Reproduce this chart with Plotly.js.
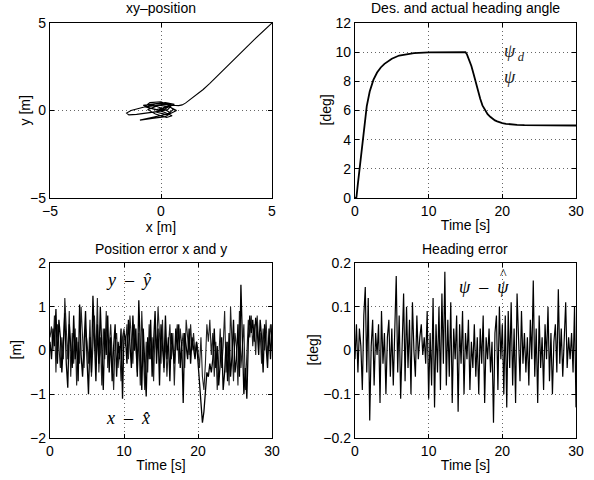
<!DOCTYPE html>
<html>
<head>
<meta charset="utf-8">
<script src="https://cdn.plot.ly/plotly-3.0.1.min.js"></script>
<style>html,body{margin:0;padding:0;background:#fff}#chart{width:594px;height:480px}</style>
</head>
<body>
<div id="chart"></div>
<script>
// ---- xy-position trajectory ----
var posX = [5,4.6,4.2,3.8,3.4,3.1,2.8,2.5,2.2,1.9,1.6,1.35,1.1,0.95,0.8,0.5,0.2,-0.2,-0.6,-1.0,-1.35,-1.55,-1.45,-1.1,-0.6,-0.1,0.3,0.45,0.2,-0.3,-0.75,-0.5,0.0,0.35,0.55,0.3,-0.2,-0.6,-0.95,-0.4,0.2,0.45,0.1,-0.35,-0.7,-0.2,0.3,0.6,0.2,-0.3,-0.8,-0.4,0.15,0.5,0.25,-0.25,-0.6,-0.1,0.4,0.7,0.3,-0.2,0.1,0.45,0.2,-0.15,0.0];
var posY = [5,4.55,4.05,3.55,3.05,2.65,2.25,1.9,1.55,1.2,0.9,0.65,0.42,0.32,0.28,0.3,0.4,0.38,0.25,0.12,0.0,-0.15,-0.25,-0.22,-0.15,-0.05,0.05,0.25,0.35,0.28,0.2,0.45,0.5,0.3,0.05,-0.2,-0.35,-0.45,-0.55,-0.45,-0.35,-0.15,0.1,0.3,0.2,0.05,0.2,0.35,0.45,0.38,0.3,0.1,-0.1,-0.3,-0.4,-0.2,0.05,0.3,0.2,0.0,-0.25,-0.1,0.15,0.3,0.1,-0.05,0.05];

// ---- heading angle ----
var headT = [0,0.2,0.4,0.6,0.9,1.2,1.6,2,2.5,3,3.5,4,4.5,5,6,7,8,10,12,15.0,15.2,15.5,15.8,16.1,16.4,16.7,17,17.3,17.6,18,18.4,18.7,19,19.3,19.6,20,20.5,21,22,23,25,30];
var headV = [0,0.05,1.0,1.9,3.3,4.6,6.3,7.3,8.1,8.6,8.95,9.2,9.4,9.55,9.77,9.88,9.94,9.99,10,10,9.85,9.5,9.05,8.5,7.9,7.3,6.8,6.35,6.05,5.75,5.55,5.42,5.32,5.25,5.19,5.14,5.09,5.05,5.01,4.99,4.98,4.97];

// ---- position errors (sampled every 0.2 s from t = 0) ----
var xErr = [0.2,-0.2,0.5,0.1,0.95,-0.3,0.7,0.3,-0.5,0.2,
  0.85,-0.3,-0.85,0.6,0.1,-0.4,0.8,-0.2,0.3,-0.7,
  1.05,-0.1,-0.6,0.4,0.9,-0.2,-1.0,0.3,-0.5,1.25,
  0.2,-0.7,0.6,-0.3,1.0,0.1,-0.9,0.5,-0.1,0.8,
  -0.5,0.3,-0.7,0.1,0.6,-0.6,0.2,-0.2,0.5,-1.1,
  0.4,0.3,-0.3,0.7,0.2,-0.4,0.8,0.0,0.5,-0.6,
  1.15,0.2,-0.9,0.5,-0.5,-1.05,0.3,-0.2,0.7,-0.6,
  0.2,0.9,-0.3,0.5,-0.8,0.6,0.1,-0.4,0.8,-0.2,
  0.3,-0.7,0.4,0.1,-0.3,0.5,0.0,0.6,-0.4,0.2,
  -1.2,0.4,0.1,-0.2,0.5,-0.3,0.3,0.1,-0.2,0.2,
  -0.3,-0.9,-1.3,-1.65,-1.4,-0.9,-0.5,-0.6,-0.3,-0.5,
  -0.2,0.5,-0.4,0.1,-0.8,-0.3,0.3,-0.9,-0.5,0.2,
  -0.7,0.4,-0.6,-0.1,0.7,-0.5,-0.2,0.6,-0.6,1.5,
  0.3,-1.0,-0.4,-1.1,0.2,0.8,0.4,0.7,0.2,0.75,
  0.5,-0.1,0.7,0.3,-0.5,0.6,0.1,-0.4,0.5,-0.2,
  0.6];
var yErr = [0.3,0.55,0.0,0.8,-0.5,0.6,0.1,-0.4,0.3,-0.2,
  1.2,0.4,-0.2,0.9,-0.6,0.4,-0.3,0.5,-0.8,0.2,
  -0.3,1.0,0.1,-0.4,0.5,0.2,-0.3,0.7,-0.6,0.1,
  0.8,-0.2,1.2,-0.5,0.3,-0.8,0.5,-0.2,0.9,-0.4,
  0.2,0.6,-0.1,-0.9,0.2,0.4,-0.4,0.1,-0.7,0.3,
  0.5,0.1,0.6,-0.2,0.8,0.3,-0.3,0.6,0.1,-0.5,
  0.4,-0.8,0.9,0.0,-0.9,0.2,-0.5,0.6,-0.2,0.3,
  -0.7,0.5,0.0,1.0,0.2,-0.3,0.7,-0.5,0.3,-0.6,
  0.1,0.6,-0.2,0.4,-0.8,0.2,0.6,-0.3,0.5,0.1,
  0.4,-0.4,0.7,0.2,-0.1,0.6,0.0,0.4,-0.1,0.2,
  0.0,-0.4,0.3,-0.6,-0.9,-0.3,0.6,0.2,0.7,-0.1,
  0.4,-0.6,0.2,-0.9,-0.2,0.5,-0.4,0.1,0.9,-0.5,
  0.2,-0.8,1.0,0.3,-0.7,0.4,0.1,-0.8,0.9,-0.4,
  0.2,0.6,-0.9,0.1,0.7,0.3,0.8,0.1,0.6,-0.1,
  0.8,0.2,0.4,-0.3,0.5,0.0,0.7,-0.1,0.3,0.6,
  0.0];

// ---- heading error (sampled every 0.2 s from t = 0) ----
var headErr = [-0.02,0.06,-0.05,0.05,0.01,-0.09,0.08,0.145,-0.05,0.12,
  -0.16,0.01,0.07,-0.08,0.04,-0.01,0.06,-0.12,0.09,-0.03,
  0.04,-0.1,0.03,0.07,-0.06,0.05,-0.08,0.06,0.17,-0.05,
  0.08,-0.11,0.02,0.13,-0.07,0.1,-0.04,0.07,-0.1,0.11,
  0.0,-0.06,0.08,-0.02,0.03,0.06,-0.01,0.03,-0.03,0.09,
  -0.11,0.04,-0.08,0.12,-0.13,0.06,-0.05,0.1,-0.09,0.13,
  -0.03,0.18,-0.08,0.07,-0.06,0.11,-0.12,0.05,-0.02,0.08,
  -0.14,0.06,-0.03,0.09,-0.1,0.04,-0.02,0.07,-0.09,0.02,
  -0.04,0.06,-0.06,0.03,-0.1,0.05,-0.03,0.08,-0.12,0.03,
  -0.02,0.05,-0.05,0.02,-0.165,0.04,0.08,-0.09,0.1,-0.02,
  0.06,-0.1,0.08,-0.13,0.09,-0.04,0.11,-0.08,0.05,-0.12,
  0.13,0.0,-0.07,0.09,-0.03,0.04,-0.05,0.03,-0.08,0.07,
  -0.02,0.16,-0.06,0.05,-0.12,0.08,-0.04,0.03,-0.09,0.06,
  -0.02,0.1,-0.07,0.04,-0.1,0.02,0.06,-0.05,0.14,-0.03,
  0.05,-0.06,0.02,0.11,-0.04,0.03,-0.02,0.04,-0.05,0.1,
  -0.13];

var FONT = 'Liberation Sans, Arial, Helvetica, sans-serif';
var SERIF = 'Liberation Serif, Times New Roman, serif';

var traces = [
  {x: posX, y: posY, xaxis: 'x', yaxis: 'y', mode: 'lines', line: {color: '#000', width: 1.1}},
  {x: headT, y: headV, xaxis: 'x2', yaxis: 'y2', mode: 'lines', line: {color: '#000', width: 1.8}},
  {x0: 0, dx: 0.2, y: yErr, xaxis: 'x3', yaxis: 'y3', mode: 'lines', line: {color: '#222', width: 1.1}},
  {x0: 0, dx: 0.2, y: xErr, xaxis: 'x3', yaxis: 'y3', mode: 'lines', line: {color: '#000', width: 1.3}},
  {x0: 0, dx: 0.2, y: headErr, xaxis: 'x4', yaxis: 'y4', mode: 'lines', line: {color: '#000', width: 1.2}}
];

function ax(extra) {
  var base = {
    showline: true, linecolor: '#000', linewidth: 1.2, mirror: 'allticks',
    ticks: 'inside', ticklen: 4, tickcolor: '#000', tickwidth: 1,
    showgrid: true, gridcolor: '#666', griddash: '1px,3px', gridwidth: 1,
    zeroline: false, fixedrange: true,
    tickfont: {family: FONT, size: 14, color: '#000'}
  };
  for (var k in extra) base[k] = extra[k];
  return base;
}
function axTitle(t, s) { return {text: t, font: {family: FONT, size: 14, color: '#000'}, standoff: s}; }

var xL = [0.0842, 0.4579], xR = [0.5976, 0.9697];
var yT = [0.5875, 0.9521], yB = [0.0875, 0.4521];

function yTitle(t, px, dom) {
  return {text: t, xref: 'paper', yref: 'paper', x: px / 594, y: (dom[0] + dom[1]) / 2,
    xanchor: 'center', yanchor: 'middle', textangle: -90, showarrow: false,
    font: {family: FONT, size: 14, color: '#000'}};
}
function pTitle(t, xd, yd, s) {
  return {text: t, xref: 'paper', yref: 'paper', x: (xd[0] + xd[1]) / 2, y: yd[1],
    xanchor: 'center', yanchor: 'bottom', yshift: s, showarrow: false,
    font: {family: FONT, size: 14, color: '#000'}};
}

var layout = {
  width: 594, height: 480,
  margin: {l: 0, r: 0, t: 0, b: 0},
  paper_bgcolor: '#fff', plot_bgcolor: '#fff',
  showlegend: false,
  font: {family: FONT, size: 14, color: '#000'},
  xaxis: ax({domain: xL, anchor: 'y', range: [-5, 5], tickvals: [-5, 0, 5], title: axTitle('x [m]', 0)}),
  yaxis: ax({domain: yT, anchor: 'x', range: [-5, 5], tickvals: [-5, 0, 5]}),
  xaxis2: ax({domain: xR, anchor: 'y2', range: [0, 30], tickvals: [0, 10, 20, 30], title: axTitle('Time [s]', 2)}),
  yaxis2: ax({domain: yT, anchor: 'x2', range: [0, 12], tickvals: [0, 2, 4, 6, 8, 10, 12]}),
  xaxis3: ax({domain: xL, anchor: 'y3', range: [0, 30], tickvals: [0, 10, 20, 30], title: axTitle('Time [s]', 2)}),
  yaxis3: ax({domain: yB, anchor: 'x3', range: [-2, 2], tickvals: [-2, -1, 0, 1, 2]}),
  xaxis4: ax({domain: xR, anchor: 'y4', range: [0, 30], tickvals: [0, 10, 20, 30], title: axTitle('Time [s]', 2)}),
  yaxis4: ax({domain: yB, anchor: 'x4', range: [-0.2, 0.2], tickvals: [-0.2, -0.1, 0, 0.1, 0.2]}),
  annotations: [
    pTitle('xy–position', xL, yT, 5),
    pTitle('Des. and actual heading angle', xR, yT, 5),
    pTitle('Position error x and y', xL, yB, 4),
    pTitle('Heading error', xR, yB, 4),
    yTitle('y [m]', 25, yT),
    yTitle('[deg]', 326, yT),
    yTitle('[m]', 16, yB),
    yTitle('[deg]', 313, yB),
    {text: '<i>ψ</i><sub>\u2009<i>d</i></sub>', xref: 'x2', yref: 'y2', x: 19.9, y: 10, xanchor: 'left', yanchor: 'middle', showarrow: false, font: {family: SERIF, size: 18, color: '#222'}},
    {text: '<i>ψ</i>', xref: 'x2', yref: 'y2', x: 19.9, y: 8.3, xanchor: 'left', yanchor: 'middle', showarrow: false, font: {family: SERIF, size: 18, color: '#222'}},
    {text: '<i>y</i>\u00a0\u00a0–\u00a0\u00a0<i>ŷ</i>', xref: 'x3', yref: 'y3', x: 10.6, y: 1.6, xanchor: 'center', yanchor: 'middle', showarrow: false, font: {family: SERIF, size: 18}},
    {text: '<i>x</i>\u00a0\u00a0–\u00a0\u00a0<i>x̂</i>', xref: 'x3', yref: 'y3', x: 10.6, y: -1.55, xanchor: 'center', yanchor: 'middle', showarrow: false, font: {family: SERIF, size: 18}},
    {text: '<i>ψ</i>\u00a0\u00a0–\u00a0\u00a0<i>ψ</i>', xref: 'x4', yref: 'y4', x: 17.5, y: 0.145, xanchor: 'center', yanchor: 'middle', showarrow: false, font: {family: SERIF, size: 18}},
    {text: '^', xref: 'x4', yref: 'y4', x: 20.2, y: 0.145, xanchor: 'center', yanchor: 'bottom', yshift: 3, showarrow: false, font: {family: SERIF, size: 14, color: '#000'}}
  ]
};

Plotly.newPlot('chart', traces, layout, {staticPlot: true, displayModeBar: false});
</script>
</body>
</html>
